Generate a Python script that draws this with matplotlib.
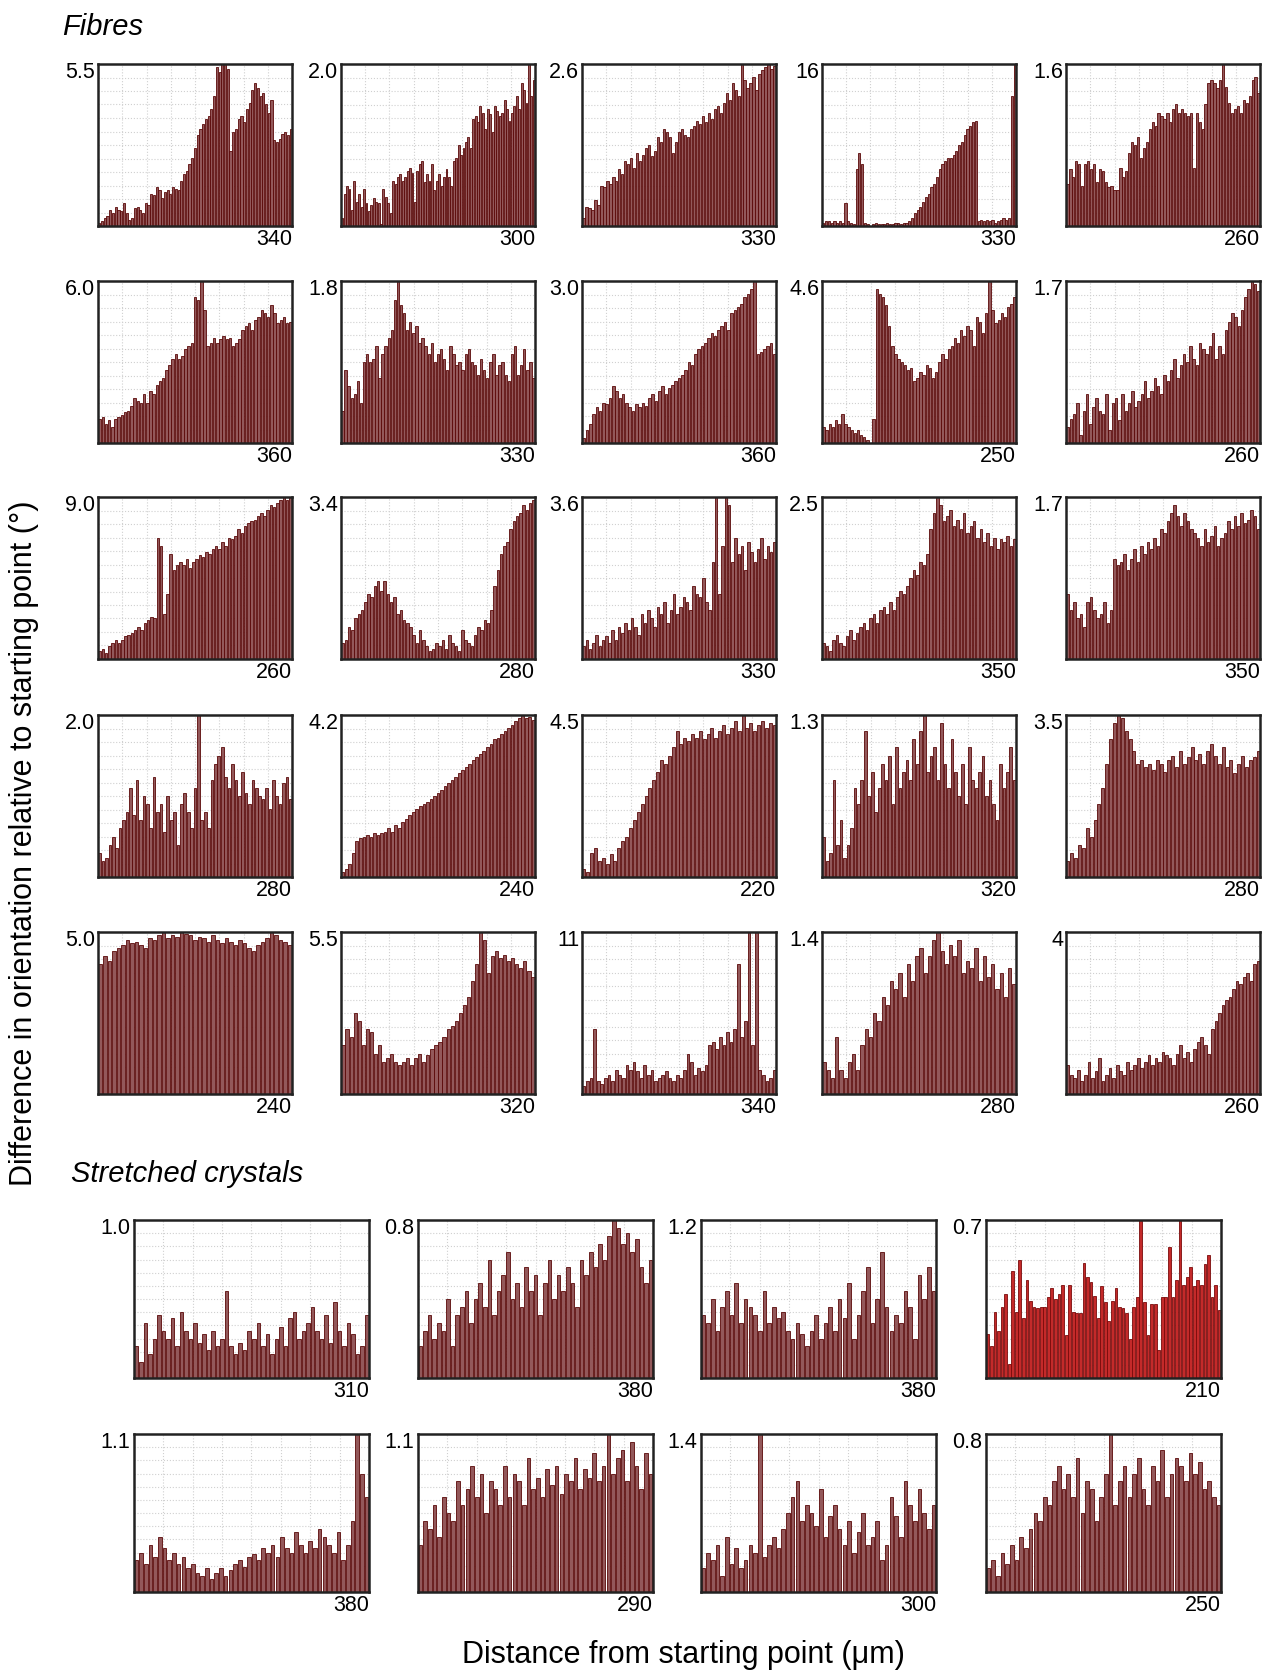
import numpy as np
import matplotlib
matplotlib.use("Agg")
import matplotlib.pyplot as plt

plt.rcParams['font.family'] = ['Liberation Sans', 'DejaVu Sans']

# ---- data: bar heights as % of each panel's y maximum ----
# Fibres, row by row (ymax label, xmax label, values)
f1_ymax, f1_xmax = "5.5", "340"
f1 = [2,3,5,6,10,8,12,10,9,14,8,4,5,11,12,10,8,14,13,20,19,24,22,17,21,22,20,24,23,22,28,32,34,38,42,48,56,60,63,66,68,72,80,98,95,100,100,97,46,58,60,66,68,64,72,76,84,88,85,80,82,75,70,78,53,52,54,57,58,56,60]
f2_ymax, f2_xmax = "2.0", "300"
f2 = [5,20,25,23,10,28,15,20,12,23,14,9,13,17,15,14,1,23,18,14,8,28,26,30,32,28,30,34,36,33,15,34,38,40,27,32,28,38,22,28,32,25,30,35,30,25,40,42,50,44,48,52,55,48,66,68,64,74,70,60,72,69,58,74,71,68,70,78,72,65,70,74,80,72,88,84,76,100,80,90]
f3_ymax, f3_xmax = "2.6", "330"
f3 = [5,12,11,10,16,13,25,24,28,26,30,28,35,32,40,38,42,36,45,40,44,48,50,43,46,55,52,60,58,55,45,52,58,60,56,55,60,62,65,63,68,64,70,66,72,74,70,76,82,78,88,84,80,100,90,85,88,92,84,94,96,98,100,97,99]
f4_ymax, f4_xmax = "16", "330"
f4 = [2,3,3,2,3,2,3,2,14,3,2,1,35,45,38,2,1,0,1,2,1,1,1,2,1,1,2,2,1,2,2,3,5,8,10,12,15,18,20,24,26,30,35,38,40,42,42,44,46,50,52,56,60,62,64,65,3,4,3,4,3,4,2,3,4,5,4,5,80,100]
f5_ymax, f5_xmax = "1.6", "260"
f5 = [26,35,30,40,38,25,38,40,35,38,27,35,34,27,24,25,22,22,36,30,34,45,52,50,55,42,48,52,60,64,62,70,68,66,70,64,72,75,70,72,70,68,70,36,70,64,60,75,88,90,88,85,90,100,86,76,70,72,74,70,78,76,80,90,92,82]

f6_ymax, f6_xmax = "6.0", "360"
f6 = [15,16,12,14,10,15,16,17,19,20,23,28,26,25,30,25,32,30,36,38,40,45,48,52,55,52,54,58,60,62,90,88,100,82,60,62,65,62,64,66,64,65,60,62,64,70,72,74,70,76,78,82,80,78,85,80,74,76,78,74,75]
f7_ymax, f7_xmax = "1.8", "330"
f7 = [20,45,35,28,30,38,25,50,55,50,52,60,40,55,60,65,70,88,100,85,80,70,75,68,72,62,65,60,55,62,50,55,58,52,45,60,55,48,50,45,55,58,50,48,42,52,45,40,50,55,42,48,50,42,38,55,60,42,48,58,45,50,40]
f8_ymax, f8_xmax = "3.0", "360"
f8 = [3,8,12,18,22,20,25,24,28,35,32,28,30,25,22,20,24,22,25,23,28,30,26,32,35,30,34,36,38,40,42,45,50,48,55,58,60,62,65,68,66,70,72,75,70,80,82,84,86,90,92,95,100,55,56,58,60,62,55]
f9_ymax, f9_xmax = "4.6", "250"
f9 = [10,8,12,10,14,12,18,12,10,8,6,8,5,4,2,0,15,95,92,90,85,72,60,55,52,50,48,45,46,38,40,44,42,48,46,40,44,50,55,52,58,60,65,62,70,66,72,70,60,78,75,68,80,100,82,74,76,80,78,84,86,90]
f10_ymax, f10_xmax = "1.7", "260"
f10 = [10,15,18,25,5,20,30,12,22,28,20,18,30,8,25,28,14,30,20,25,32,22,26,30,38,28,32,40,35,30,42,38,45,52,40,48,55,50,60,52,48,62,58,55,60,68,52,60,55,70,75,80,78,72,82,90,95,100,98,94]

f11_ymax, f11_xmax = "9.0", "260"
f11 = [5,6,4,8,10,12,10,12,14,15,16,18,20,18,22,24,26,25,75,70,28,40,65,55,58,60,58,62,56,60,62,64,63,66,65,68,70,68,72,70,75,74,76,80,78,82,84,85,86,88,90,88,92,95,94,96,98,100,98,100]
f12_ymax, f12_xmax = "3.4", "280"
f12 = [10,12,20,18,25,28,30,35,40,38,45,48,42,48,40,35,38,28,30,24,22,20,15,10,18,12,8,5,6,10,8,12,6,15,10,8,5,18,12,10,8,15,20,18,24,22,30,45,55,65,70,72,80,85,88,90,95,92,96,98]
f13_ymax, f13_xmax = "3.6", "330"
f13 = [8,12,6,10,15,8,12,14,10,18,12,20,16,22,18,25,20,15,28,22,30,25,20,32,28,35,22,30,40,28,32,38,35,30,45,40,38,50,35,30,60,100,40,70,100,95,60,75,65,70,55,72,66,60,68,75,62,70,66,72]
f14_ymax, f14_xmax = "2.5", "350"
f14 = [10,8,5,12,15,10,8,14,18,12,16,20,22,18,25,28,22,30,32,28,35,30,38,42,40,45,50,55,52,60,58,65,80,90,100,95,85,88,92,82,86,80,90,78,82,85,75,80,72,78,70,75,68,74,72,76,70,74]
f15_ymax, f15_xmax = "1.7", "350"
f15 = [40,30,35,25,28,20,35,38,30,25,28,35,22,30,62,58,60,65,55,62,68,60,70,65,72,68,75,70,80,78,85,90,95,88,82,90,85,80,78,75,70,80,72,76,82,70,75,78,85,80,88,82,90,84,86,92,88,80]

f16_ymax, f16_xmax = "2.0", "280"
f16 = [15,10,12,20,25,18,30,35,40,55,38,60,35,50,45,30,62,40,45,28,50,35,40,20,45,52,40,30,55,100,35,40,30,60,70,75,80,62,55,70,60,50,65,52,45,60,55,50,48,55,42,60,50,45,58,62,48]
f17_ymax, f17_xmax = "4.2", "240"
f17 = [3,5,8,15,22,24,25,26,25,27,26,27,28,30,28,32,30,34,36,38,40,42,44,45,46,48,50,52,54,56,58,60,62,64,66,68,70,72,74,76,78,80,82,85,86,88,90,92,94,96,98,100,98,99,97]
f18_ymax, f18_xmax = "4.5", "220"
f18 = [5,3,15,18,10,12,8,14,10,18,22,25,30,35,40,45,50,55,60,65,72,70,75,80,90,82,86,84,88,86,90,85,88,92,86,90,94,88,92,96,90,100,92,95,90,94,96,92,95,94]
f19_ymax, f19_xmax = "1.3", "320"
f19 = [25,10,15,60,20,35,12,20,30,55,45,60,90,50,65,40,55,70,60,75,45,80,55,65,72,60,85,70,90,100,65,75,80,60,95,70,55,85,65,50,70,45,80,60,55,65,75,50,60,45,35,70,55,65,80,60]
f20_ymax, f20_xmax = "3.5", "280"
f20 = [10,15,12,20,18,30,25,35,45,55,70,85,95,100,98,90,85,78,70,72,68,70,66,72,70,65,72,75,68,78,70,74,80,72,76,70,78,82,75,70,80,68,72,64,70,75,68,72,74,78]

f21_ymax, f21_xmax = "5.0", "240"
f21 = [80,85,82,88,90,92,95,93,94,92,90,96,95,98,100,96,98,97,100,99,98,95,97,96,94,98,95,93,96,94,92,95,93,90,88,92,94,96,100,98,95,94,92]
f22_ymax, f22_xmax = "5.5", "320"
f22 = [30,40,35,50,45,30,40,38,25,30,20,22,25,20,18,20,22,18,22,25,20,24,28,30,32,35,40,42,45,50,55,60,70,80,100,95,75,85,88,84,86,82,84,80,78,82,76,72]
f23_ymax, f23_xmax = "11", "340"
f23 = [5,8,10,40,8,6,10,12,8,15,12,10,18,15,20,14,10,18,12,15,8,10,12,14,10,8,12,10,15,25,20,12,16,14,18,30,32,28,35,30,38,32,40,80,35,45,100,30,100,15,12,8,10,15]
f24_ymax, f24_xmax = "1.4", "280"
f24 = [20,15,10,35,15,10,20,25,15,30,40,35,50,45,60,55,70,65,75,60,80,70,85,90,75,85,95,100,88,80,92,85,95,75,82,78,90,70,85,72,80,65,75,60,78,68]
f25_ymax, f25_xmax = "4", "260"
f25 = [18,12,10,15,8,12,20,10,14,22,8,12,16,10,18,14,12,20,15,18,22,16,20,24,18,22,20,26,24,22,18,25,30,22,26,20,28,32,35,30,25,40,45,50,55,58,60,65,70,68,72,75,70,80,82]

# Stretched crystals
s1_ymax, s1_xmax = "1.0", "310"
s1 = [20,10,35,15,25,40,30,25,38,20,42,30,25,35,22,28,18,30,20,25,55,20,15,22,18,30,25,35,20,28,15,25,32,20,38,42,25,30,35,45,30,25,40,22,48,30,20,35,28,15,20,40]
s2_ymax, s2_xmax = "0.8", "380"
s2 = [20,30,40,25,35,30,50,20,40,45,55,35,50,60,45,75,40,55,65,80,50,60,45,70,55,65,40,60,75,50,65,55,70,60,45,75,65,80,70,85,75,90,100,95,85,92,80,88,70,60,75]
s3_ymax, s3_xmax = "1.2", "380"
s3 = [40,35,50,30,45,55,40,60,35,50,45,40,30,55,35,45,38,42,30,25,35,28,20,30,40,25,35,45,30,50,38,60,25,40,55,70,35,50,80,45,30,40,35,55,45,25,65,50,70,55]
s4_ymax, s4_xmax = "0.7", "210"
s4 = [28,20,42,30,45,53,9,68,42,75,38,62,49,45,44,45,45,51,57,50,53,59,27,59,42,41,41,73,64,61,52,38,58,48,36,49,57,45,44,41,25,45,51,100,48,27,47,47,18,51,51,83,51,62,100,59,64,70,58,62,59,72,78,51,59,43]
s5_ymax, s5_xmax = "1.1", "380"
s5 = [20,25,18,30,22,35,28,20,25,18,22,15,18,12,10,15,8,12,15,10,14,18,20,16,22,24,20,28,25,30,22,35,28,25,38,30,25,32,28,40,35,30,25,38,20,30,45,100,75,60]
s6_ymax, s6_xmax = "1.1", "290"
s6 = [30,45,40,55,35,60,50,45,70,55,65,80,60,75,50,70,65,55,80,60,75,70,55,85,65,72,60,78,68,80,62,75,70,85,65,78,72,88,70,80,100,75,85,90,70,95,80,65,88,75]
s7_ymax, s7_xmax = "1.4", "300"
s7 = [15,25,20,30,10,35,18,28,15,20,30,25,100,22,30,35,28,40,50,60,70,45,55,50,42,65,35,48,55,40,30,45,25,38,50,30,35,45,20,30,60,48,35,70,55,45,65,50,40,55]
s8_ymax, s8_xmax = "0.8", "250"
s8 = [15,20,10,25,18,30,20,35,28,40,50,45,60,55,70,80,65,75,60,85,50,70,65,45,60,75,100,55,70,80,60,75,85,65,55,80,70,90,60,75,85,80,70,88,75,82,65,70,60,55]

fibres = [
    (f1, f1_ymax, f1_xmax), (f2, f2_ymax, f2_xmax), (f3, f3_ymax, f3_xmax), (f4, f4_ymax, f4_xmax), (f5, f5_ymax, f5_xmax),
    (f6, f6_ymax, f6_xmax), (f7, f7_ymax, f7_xmax), (f8, f8_ymax, f8_xmax), (f9, f9_ymax, f9_xmax), (f10, f10_ymax, f10_xmax),
    (f11, f11_ymax, f11_xmax), (f12, f12_ymax, f12_xmax), (f13, f13_ymax, f13_xmax), (f14, f14_ymax, f14_xmax), (f15, f15_ymax, f15_xmax),
    (f16, f16_ymax, f16_xmax), (f17, f17_ymax, f17_xmax), (f18, f18_ymax, f18_xmax), (f19, f19_ymax, f19_xmax), (f20, f20_ymax, f20_xmax),
    (f21, f21_ymax, f21_xmax), (f22, f22_ymax, f22_xmax), (f23, f23_ymax, f23_xmax), (f24, f24_ymax, f24_xmax), (f25, f25_ymax, f25_xmax),
]
stretched = [
    (s1, s1_ymax, s1_xmax), (s2, s2_ymax, s2_xmax), (s3, s3_ymax, s3_xmax), (s4, s4_ymax, s4_xmax),
    (s5, s5_ymax, s5_xmax), (s6, s6_ymax, s6_xmax), (s7, s7_ymax, s7_xmax), (s8, s8_ymax, s8_xmax),
]

W, H = 1263, 1673
fig = plt.figure(figsize=(W / 100, H / 100), dpi=100)


def panel(left, top, w, h, vals, ymax_lab, xmax_lab, face='#93585a', edge='#5a0808'):
    ax = fig.add_axes([left / W, 1 - (top + h) / H, w / W, h / H])
    ymax = float(ymax_lab)
    y = np.array(vals) / 100.0 * ymax
    n = len(y)
    ax.bar(np.arange(n), y, width=0.78, color=face, edgecolor=edge, linewidth=0.6, zorder=2)
    ax.set_xlim(-0.5, n - 0.5)
    ax.set_ylim(0, ymax)
    ax.set_xticks(np.linspace(-0.5, n - 0.5, 9)[1:-1])
    ax.set_yticks(np.linspace(0, ymax, 13)[1:-1])
    ax.tick_params(length=0, labelbottom=False, labelleft=False)
    ax.grid(True, color='#d0d0d0', linestyle=':', linewidth=0.8)
    ax.set_axisbelow(True)
    for s in ax.spines.values():
        s.set_linewidth(1.8)
        s.set_color('#222222')
    ax.text(-0.015, 1.01, ymax_lab, transform=ax.transAxes, ha='right', va='top', fontsize=15.5)
    ax.text(1.0, -0.02, xmax_lab, transform=ax.transAxes, ha='right', va='top', fontsize=15.5)
    return ax


fib_left = [98, 341, 582, 822, 1066]
fib_top = [64, 281, 497, 715, 932]
for i, (vals, ym, xm) in enumerate(fibres):
    r, c = divmod(i, 5)
    panel(fib_left[c], fib_top[r], 194, 162, vals, ym, xm)

st_left = [134, 418, 701, 986]
st_top = [1220, 1434]
for i, (vals, ym, xm) in enumerate(stretched):
    r, c = divmod(i, 4)
    if i == 3:
        panel(st_left[c], st_top[r], 235, 158, vals, ym, xm, face='#c42a2a', edge='#7a0a0a')
    else:
        panel(st_left[c], st_top[r], 235, 158, vals, ym, xm)

fig.text(62 / W, 1 - 27 / H, "Fibres", fontsize=21, style='italic', ha='left', va='center')
fig.text(71 / W, 1 - 1174 / H, "Stretched crystals", fontsize=21, style='italic', ha='left', va='center')
fig.text(24 / W, 1 - 843 / H, "Difference in orientation relative to starting point (°)",
         rotation=90, fontsize=22, ha='center', va='center')
fig.text(683 / W, 1 - 1655 / H, "Distance from starting point (μm)", fontsize=22, ha='center', va='center')

fig.savefig("out.png", dpi=100)
